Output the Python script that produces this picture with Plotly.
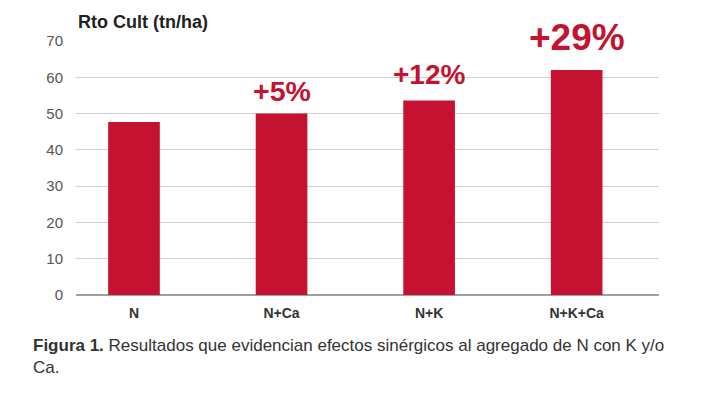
import plotly.graph_objects as go

categories = ["N", "N+Ca", "N+K", "N+K+Ca"]
values = [47.7, 50.0, 53.6, 62.0]
pct_labels = ["", "+5%", "+12%", "+29%"]
y_ticks = [0, 10, 20, 30, 40, 50, 60, 70]

RED = "#C41230"
FONT = "Liberation Sans"

# page has an 8px body margin; size the figure to fill the rest of the window
OFF = 8
W, H = 709 - OFF, 397 - OFF
L, R, T, B = 76 - OFF, 50, 41 - OFF, 102
pw, ph = W - L - R, H - T - B

fig = go.Figure()
fig.add_trace(go.Bar(
    x=list(range(len(categories))), y=values,
    marker=dict(color=RED, line=dict(width=0)),
    width=0.35, hoverinfo="skip",
))

label_sizes = [28, 28.5, 28, 37]
label_shifts = [5, 5, 9, 10]
for i, (v, t) in enumerate(zip(values, pct_labels)):
    if t:
        fig.add_annotation(
            x=i, y=v, text=f"<b>{t}</b>", showarrow=False,
            xanchor="center", yanchor="bottom", yshift=label_shifts[i],
            font=dict(family=FONT, size=label_sizes[i], color=RED),
        )

# Axis title at top-left
fig.add_annotation(
    xref="paper", yref="paper", x=0, y=1 + 7 / ph,
    text="<b>Rto Cult (tn/ha)</b>", showarrow=False,
    xanchor="left", yanchor="bottom",
    font=dict(family=FONT, size=18, color="#222"),
)

# Caption
fig.add_annotation(
    xref="paper", yref="paper", x=(31 - OFF - L) / pw, y=-(326 - (H - B)) / ph,
    text="<b>Figura 1.</b> Resultados que evidencian efectos sinérgicos al agregado de N con K y/o<br>Ca.",
    showarrow=False, xanchor="left", yanchor="top", align="left",
    font=dict(family=FONT, size=17, color="#333"),
)

fig.update_layout(
    width=W, height=H, autosize=False,
    margin=dict(l=L, r=R, t=T, b=B, pad=0),
    paper_bgcolor="white", plot_bgcolor="white",
    showlegend=False,
    xaxis=dict(
        range=[-0.393, 3.558],
        tickmode="array", tickvals=list(range(len(categories))),
        ticktext=[f"<b>{c}</b>" for c in categories],
        showgrid=False, zeroline=False, showline=False, ticks="",
        tickfont=dict(family=FONT, size=14, color="#333"),
        ticklabelstandoff=8,
    ),
    yaxis=dict(
        range=[0, 70], tickmode="array", tickvals=y_ticks,
        showgrid=True, gridcolor="#CFCFCF", gridwidth=1,
        zeroline=True, zerolinecolor="#A0A0A0", zerolinewidth=1.5,
        showline=False, ticks="",
        tickfont=dict(family=FONT, size=15, color="#555"),
        ticklabelstandoff=12,
    ),
)

fig.write_html("out.html")
